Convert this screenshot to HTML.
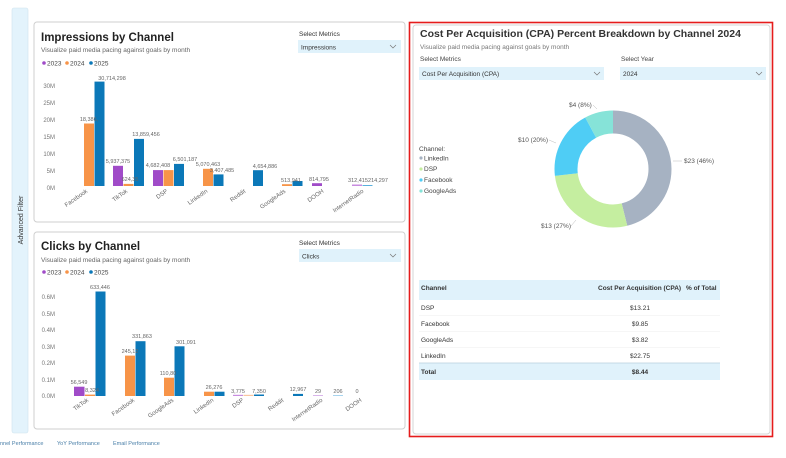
<!DOCTYPE html>
<html><head><meta charset="utf-8"><style>
body{margin:0;background:#fff;font-family:"Liberation Sans",sans-serif}
svg text{font-family:"Liberation Sans",sans-serif}
</style></head><body>
<svg width="786" height="453" viewBox="0 0 786 453" xmlns="http://www.w3.org/2000/svg">
<rect width="786" height="453" fill="#fff"/>
<!-- advanced filter strip -->
<rect x="12" y="8" width="16" height="425" rx="2" fill="#e3f3fc" stroke="#cfe3ee" stroke-width="0.6"/>
<text transform="translate(23,220) rotate(-90)" font-size="7" fill="#333" text-anchor="middle">Advanced Filter</text>
<!-- bottom tabs -->
<text x="0" y="445" font-size="5.5" fill="#4a7fa8">nnel Performance</text>
<text x="57" y="445" font-size="5.5" fill="#4a7fa8">YoY Performance</text>
<text x="113" y="445" font-size="5.5" fill="#4a7fa8">Email Performance</text>

<!-- Impressions panel -->
<rect x="34" y="22" width="371" height="200" rx="3" fill="#fff" stroke="#cfcfcf" stroke-width="1"/>
<text x="41" y="41" font-size="11.5" font-weight="bold" fill="#222">Impressions by Channel</text>
<text x="41" y="52" font-size="6.5" fill="#666">Visualize paid media pacing against goals by month</text>
<circle cx="44" cy="63" r="1.8" fill="#a04bc8"/><text x="47" y="65.5" font-size="6.5" fill="#444">2023</text>
<circle cx="67" cy="63" r="1.8" fill="#f79448"/><text x="70" y="65.5" font-size="6.5" fill="#444">2024</text>
<circle cx="91" cy="63" r="1.8" fill="#0b78b8"/><text x="94" y="65.5" font-size="6.5" fill="#444">2025</text>
<text x="299" y="36" font-size="6.5" fill="#333">Select Metrics</text>
<rect x="298" y="40" width="103" height="13" fill="#e0f2fb"/>
<text x="301" y="49.5" font-size="6.5" fill="#333">Impressions</text>
<path d="M390 45 l3 3 l3 -3" fill="none" stroke="#777" stroke-width="0.7"/>
<g font-size="6" fill="#777" text-anchor="end">
<text x="55" y="88">30M</text><text x="55" y="105">25M</text><text x="55" y="122">20M</text><text x="55" y="139">15M</text><text x="55" y="156">10M</text><text x="55" y="173">5M</text><text x="55" y="190">0M</text>
</g>
<g>
<rect x="84" y="123.5" width="10" height="62.5" fill="#f79448"/><rect x="94.5" y="81.6" width="10" height="104.4" fill="#0b78b8"/>
<rect x="113" y="165.8" width="10" height="20.2" fill="#a04bc8"/><rect x="123.5" y="183.9" width="10" height="2.1" fill="#f79448"/><rect x="134" y="138.9" width="10" height="47.1" fill="#0b78b8"/>
<rect x="153" y="170.1" width="10" height="15.9" fill="#a04bc8"/><rect x="163.5" y="170.1" width="10" height="15.9" fill="#f79448"/><rect x="174" y="163.9" width="10" height="22.1" fill="#0b78b8"/>
<rect x="203" y="168.8" width="10" height="17.2" fill="#f79448"/><rect x="213.5" y="174.4" width="10" height="11.6" fill="#0b78b8"/>
<rect x="253" y="170.2" width="10" height="15.8" fill="#0b78b8"/>
<rect x="282" y="184.2" width="10" height="1.8" fill="#f79448"/><rect x="292.5" y="181" width="10" height="5" fill="#0b78b8"/>
<rect x="312" y="183.2" width="10" height="2.8" fill="#a04bc8"/>
<rect x="352" y="184.5" width="10" height="1.5" fill="#c98de0"/><rect x="362.5" y="185" width="10" height="1" fill="#5ab0dd"/>
</g>
<g font-size="5.5" fill="#666" text-anchor="middle">
<text x="89" y="121">18,386,</text><text x="112" y="80">30,714,298</text>
<text x="118" y="163">5,937,375</text><text x="130" y="181">624,35</text><text x="146" y="136">13,859,456</text>
<text x="158" y="167">4,682,408</text><text x="185" y="161">6,501,187</text>
<text x="208" y="166">5,070,463</text><text x="222" y="172">3,407,485</text>
<text x="265" y="168">4,654,886</text>
<text x="291" y="182">513,941</text>
<text x="319" y="181">814,795</text>
<text x="358" y="182">312,415</text><text x="378" y="182">214,297</text>
</g>
<g font-size="6" fill="#666" text-anchor="end">
<text transform="translate(88,192) rotate(-35)">Facebook</text>
<text transform="translate(128,192) rotate(-35)">TikTok</text>
<text transform="translate(168,192) rotate(-35)">DSP</text>
<text transform="translate(208,192) rotate(-35)">LinkedIn</text>
<text transform="translate(246,192) rotate(-35)">Reddit</text>
<text transform="translate(286,192) rotate(-35)">GoogleAds</text>
<text transform="translate(324,192) rotate(-35)">DOOH</text>
<text transform="translate(364,192) rotate(-35)">InternetRadio</text>
</g>

<!-- Clicks panel -->
<rect x="34" y="232" width="371" height="197" rx="3" fill="#fff" stroke="#cfcfcf" stroke-width="1"/>
<text x="41" y="250" font-size="11.5" font-weight="bold" fill="#222">Clicks by Channel</text>
<text x="41" y="262" font-size="6.5" fill="#666">Visualize paid media pacing against goals by month</text>
<circle cx="44" cy="272" r="1.8" fill="#a04bc8"/><text x="47" y="274.5" font-size="6.5" fill="#444">2023</text>
<circle cx="67" cy="272" r="1.8" fill="#f79448"/><text x="70" y="274.5" font-size="6.5" fill="#444">2024</text>
<circle cx="91" cy="272" r="1.8" fill="#0b78b8"/><text x="94" y="274.5" font-size="6.5" fill="#444">2025</text>
<text x="299" y="245" font-size="6.5" fill="#333">Select Metrics</text>
<rect x="299" y="249" width="102" height="13" fill="#e0f2fb"/>
<text x="302" y="258.5" font-size="6.5" fill="#333">Clicks</text>
<path d="M390 254 l3 3 l3 -3" fill="none" stroke="#777" stroke-width="0.7"/>
<g font-size="6" fill="#777" text-anchor="end">
<text x="55" y="299">0.6M</text><text x="55" y="316">0.5M</text><text x="55" y="332">0.4M</text><text x="55" y="349">0.3M</text><text x="55" y="365">0.2M</text><text x="55" y="382">0.1M</text><text x="55" y="398">0.0M</text>
</g>
<g>
<rect x="74" y="386.7" width="10.5" height="9.3" fill="#a04bc8"/><rect x="85" y="394.6" width="10" height="1.4" fill="#f79448"/><rect x="95.5" y="291.5" width="10" height="104.5" fill="#0b78b8"/>
<rect x="125" y="355.6" width="10" height="40.4" fill="#f79448"/><rect x="135.5" y="341.2" width="10" height="54.8" fill="#0b78b8"/>
<rect x="164" y="377.7" width="10" height="18.3" fill="#f79448"/><rect x="174.5" y="346.3" width="10" height="49.7" fill="#0b78b8"/>
<rect x="204" y="391.7" width="10" height="4.3" fill="#f79448"/><rect x="214.5" y="391.7" width="10" height="4.3" fill="#0b78b8"/>
<rect x="233" y="394.8" width="10" height="1.2" fill="#c98de0"/><rect x="243.5" y="394.8" width="10" height="1.2" fill="#f9c6a0"/><rect x="254" y="394.5" width="10" height="1.5" fill="#0b78b8"/>
<rect x="293" y="393.9" width="10" height="2.1" fill="#0b78b8"/>
<rect x="313" y="395" width="10" height="1" fill="#d9b5ea"/><rect x="333" y="395" width="10" height="1" fill="#a8d4ee"/>
</g>
<g font-size="5.5" fill="#666" text-anchor="middle">
<text x="79" y="384">56,549</text><text x="92" y="392">8,324</text><text x="100" y="289">633,446</text>
<text x="130" y="353">245,12</text><text x="142" y="338">331,863</text>
<text x="168" y="375">110,80</text><text x="186" y="344">301,091</text>
<text x="214" y="389">26,276</text>
<text x="238" y="393">3,775</text><text x="259" y="393">7,350</text>
<text x="298" y="391">12,967</text>
<text x="318" y="393">29</text><text x="338" y="393">206</text><text x="357" y="393">0</text>
</g>
<g font-size="6" fill="#666" text-anchor="end">
<text transform="translate(89,401) rotate(-35)">TikTok</text>
<text transform="translate(135,401) rotate(-35)">Facebook</text>
<text transform="translate(174,401) rotate(-35)">GoogleAds</text>
<text transform="translate(214,401) rotate(-35)">LinkedIn</text>
<text transform="translate(244,401) rotate(-35)">DSP</text>
<text transform="translate(284,401) rotate(-35)">Reddit</text>
<text transform="translate(323,401) rotate(-35)">InternetRadio</text>
<text transform="translate(362,401) rotate(-35)">DOOH</text>
</g>

<!-- Right panel -->
<rect x="413" y="25" width="357" height="409" rx="3" fill="#fff" stroke="#d5d5d5" stroke-width="1"/>
<rect x="409.5" y="22.5" width="363" height="414" fill="none" stroke="#e51c1c" stroke-width="1.6"/>
<text x="420" y="37" font-size="10.5" font-weight="bold" fill="#333">Cost Per Acquisition (CPA) Percent Breakdown by Channel 2024</text>
<text x="420" y="49" font-size="6.5" fill="#777">Visualize paid media pacing against goals by month</text>
<text x="420" y="61" font-size="6.5" fill="#444">Select Metrics</text>
<rect x="419" y="67" width="185" height="13" fill="#e0f2fb"/>
<text x="422" y="76" font-size="6.5" fill="#333">Cost Per Acquisition (CPA)</text>
<path d="M594 72 l3 3 l3 -3" fill="none" stroke="#777" stroke-width="0.7"/>
<text x="621" y="61" font-size="6.5" fill="#444">Select Year</text>
<rect x="620" y="67" width="146" height="13" fill="#e0f2fb"/>
<text x="623" y="76" font-size="6.5" fill="#333">2024</text>
<path d="M756 72 l3 3 l3 -3" fill="none" stroke="#777" stroke-width="0.7"/>
<!-- donut -->
<g transform="translate(613,169) rotate(-90)">
<circle r="47" fill="none" stroke="#a6b2c2" stroke-width="23" stroke-dasharray="135.8 295.3" stroke-dashoffset="0"/>
<circle r="47" fill="none" stroke="#c5eea0" stroke-width="23" stroke-dasharray="79.7 295.3" stroke-dashoffset="-135.8"/>
<circle r="47" fill="none" stroke="#4fcdf5" stroke-width="23" stroke-dasharray="56.1 295.3" stroke-dashoffset="-215.5"/>
<circle r="47" fill="none" stroke="#86e3d8" stroke-width="23" stroke-dasharray="23.7 295.3" stroke-dashoffset="-271.6"/>
</g>
<g font-size="6.5" fill="#555">
<text x="684" y="163">$23 (46%)</text><path d="M673 161 h9" stroke="#bbb" stroke-width="0.5"/>
<text x="541" y="228">$13 (27%)</text><path d="M571 226 l5 -6" stroke="#bbb" stroke-width="0.5" fill="none"/>
<text x="518" y="142">$10 (20%)</text><path d="M549 140 l7 3" stroke="#bbb" stroke-width="0.5" fill="none"/>
<text x="569" y="107">$4 (8%)</text><path d="M593 105 l4 4" stroke="#bbb" stroke-width="0.5" fill="none"/>
</g>
<g font-size="6.5" fill="#444">
<text x="419" y="151">Channel:</text>
<circle cx="421" cy="158" r="1.6" fill="#a6b2c2"/><text x="424" y="160.5">LinkedIn</text>
<circle cx="421" cy="169" r="1.6" fill="#c5eea0"/><text x="424" y="171">DSP</text>
<circle cx="421" cy="180" r="1.6" fill="#4fcdf5"/><text x="424" y="182">Facebook</text>
<circle cx="421" cy="191" r="1.6" fill="#86e3d8"/><text x="424" y="193">GoogleAds</text>
</g>
<!-- table -->
<rect x="419" y="280" width="301" height="20" fill="#e0f2fb"/>
<g font-size="6.5" fill="#333">
<text x="421" y="290" font-weight="bold">Channel</text>
<text x="598" y="290" font-weight="bold">Cost Per Acquisition (CPA)</text>
<text x="686" y="290" font-weight="bold">% of Total</text>
<text x="421" y="310">DSP</text><text x="640" y="310" text-anchor="middle">$13.21</text>
<text x="421" y="326">Facebook</text><text x="640" y="326" text-anchor="middle">$9.85</text>
<text x="421" y="342">GoogleAds</text><text x="640" y="342" text-anchor="middle">$3.82</text>
<text x="421" y="358">LinkedIn</text><text x="640" y="358" text-anchor="middle">$22.75</text>
</g>
<g stroke="#eee" stroke-width="0.6"><path d="M419 315.5 h301 M419 331.5 h301 M419 347.5 h301"/></g>
<rect x="419" y="363" width="301" height="17" fill="#e0f2fb"/>
<path d="M419 363 h301" stroke="#b9cfdc" stroke-width="0.7"/>
<text x="421" y="374" font-size="6.5" font-weight="bold" fill="#333">Total</text>
<text x="640" y="374" font-size="6.5" font-weight="bold" fill="#333" text-anchor="middle">$8.44</text>
</svg>
</body></html>
